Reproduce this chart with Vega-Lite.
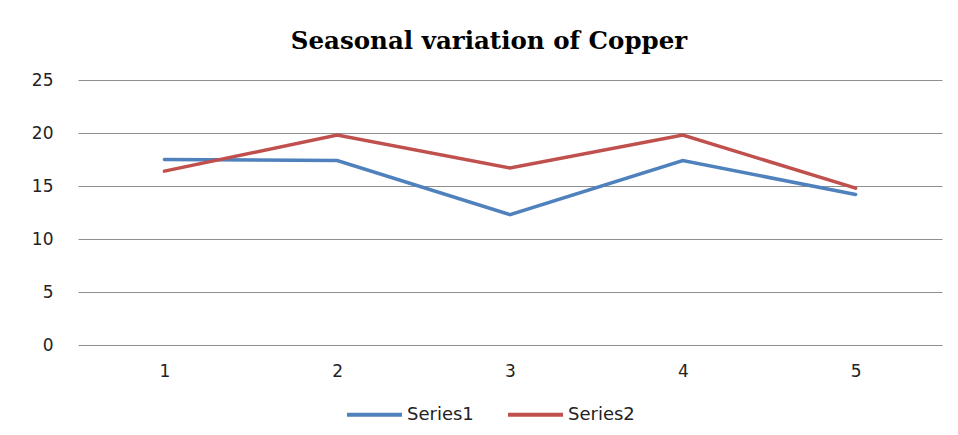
{
  "$schema": "https://vega.github.io/schema/vega-lite/v6.json",
  "autosize": {"type": "none"},
  "width": 864,
  "height": 265,
  "padding": {"left": 78, "top": 80, "right": 16, "bottom": 90},
  "background": "white",
  "title": {
    "text": "Seasonal variation of Copper",
    "font": "DejaVu Serif",
    "fontWeight": "bold",
    "fontSize": 24.5,
    "color": "#000000",
    "anchor": "middle",
    "dx": -21,
    "offset": -2,
    "baseline": "alphabetic"
  },
  "data": {
    "values": [
      {"x": "1", "series": "Series1", "value": 17.5},
      {"x": "2", "series": "Series1", "value": 17.4},
      {"x": "3", "series": "Series1", "value": 12.3},
      {"x": "4", "series": "Series1", "value": 17.4},
      {"x": "5", "series": "Series1", "value": 14.2},
      {"x": "1", "series": "Series2", "value": 16.4},
      {"x": "2", "series": "Series2", "value": 19.8},
      {"x": "3", "series": "Series2", "value": 16.7},
      {"x": "4", "series": "Series2", "value": 19.8},
      {"x": "5", "series": "Series2", "value": 14.8}
    ]
  },
  "mark": {"type": "line", "strokeWidth": 3.5, "strokeCap": "round"},
  "encoding": {
    "x": {
      "field": "x",
      "type": "ordinal",
      "scale": {"type": "point", "padding": 0.5},
      "axis": {
        "title": null,
        "labelAngle": 0,
        "domain": false,
        "ticks": false,
        "grid": false,
        "labelFont": "DejaVu Sans",
        "labelFontSize": 17,
        "labelColor": "#222222",
        "labelPadding": 18
      }
    },
    "y": {
      "field": "value",
      "type": "quantitative",
      "scale": {"domain": [0, 25], "nice": false},
      "axis": {
        "title": null,
        "values": [0, 5, 10, 15, 20, 25],
        "domain": false,
        "ticks": false,
        "grid": true,
        "gridColor": "#8f8f8f",
        "gridWidth": 1,
        "labelFont": "DejaVu Sans",
        "labelFontSize": 17,
        "labelColor": "#222222",
        "labelPadding": 25
      }
    },
    "color": {
      "field": "series",
      "type": "nominal",
      "scale": {"domain": ["Series1", "Series2"], "range": ["#4F81BD", "#C0504D"]},
      "legend": {
        "title": null,
        "orient": "none",
        "legendX": 267,
        "legendY": 305,
        "direction": "horizontal",
        "symbolType": "stroke",
        "symbolSize": 3025,
        "symbolStrokeWidth": 4,
        "labelFont": "DejaVu Sans",
        "labelFontSize": 18,
        "labelColor": "#222222",
        "labelOffset": 3,
        "columnPadding": 26
      }
    }
  },
  "config": {"view": {"stroke": null}}
}
